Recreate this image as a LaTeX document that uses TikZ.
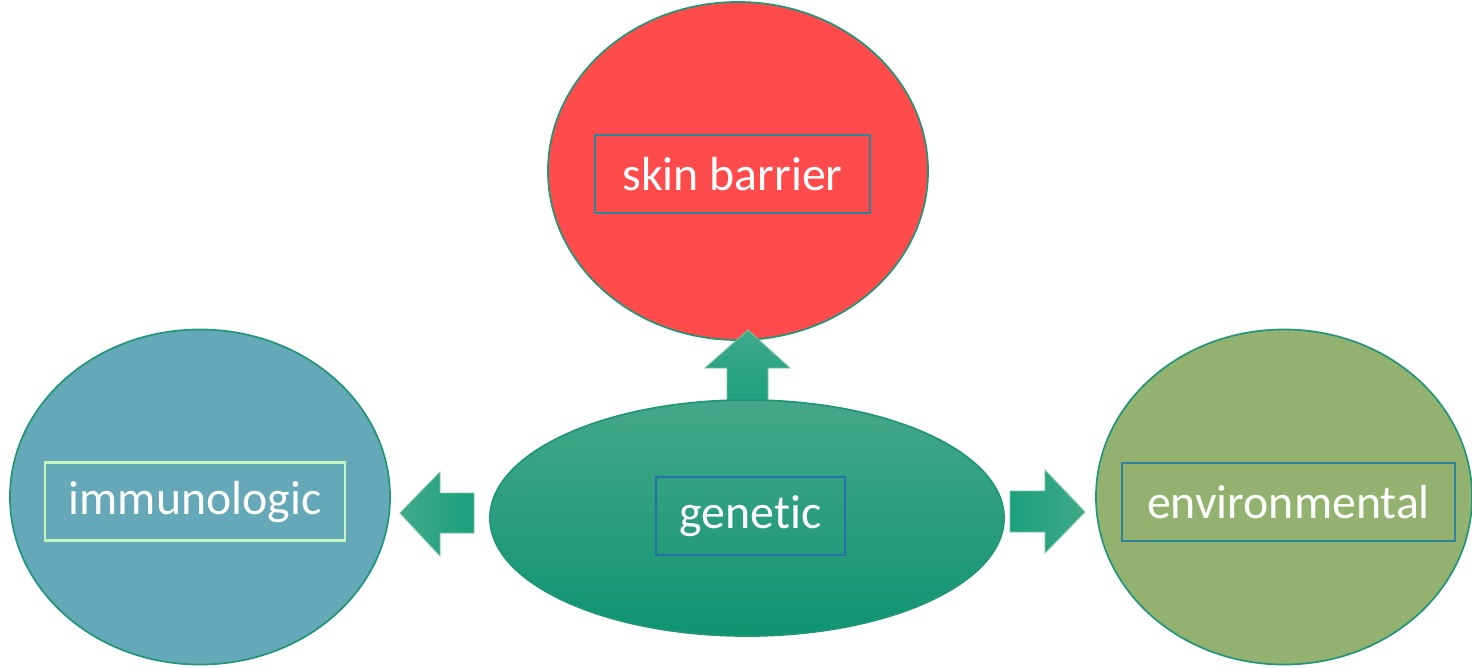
\documentclass[tikz,border=0pt]{standalone}
\usepackage{fontspec}
\setmainfont[Ligatures={NoCommon}]{Carlito}
\usetikzlibrary{shapes.geometric,positioning}

\definecolor{ringgreen}{HTML}{1F9677}
\definecolor{skinred}{HTML}{FF4B4B}
\definecolor{immublue}{HTML}{65A8B8}
\definecolor{envolive}{HTML}{94B26F}
\definecolor{gentop}{HTML}{45A888}
\definecolor{genbot}{HTML}{0F9470}
\definecolor{arrdark}{HTML}{1AA07B}
\definecolor{arrlight}{HTML}{40AA88}
\definecolor{boxteal}{HTML}{2E8599}
\definecolor{boxmint}{HTML}{C6F5C0}

\begin{document}
\begin{tikzpicture}[
    x=0.025cm, y=-0.025cm,
    every node/.style={font=\fontsize{34}{40}\selectfont, text=white},
    factor/.style={ellipse, draw=ringgreen, line width=1.2pt, inner sep=0pt},
    label box/.style={rectangle, line width=1.5pt, inner sep=0pt, minimum height=1.95cm},
    block arrow/.style={draw=arrlight!70!white, line width=0.6pt},
]
\useasboundingbox (0,0) rectangle (1472,667);

% Side arrows
\draw[block arrow, left color=arrlight, right color=arrdark]
    (474,493) -- (440,493) -- (440,472) -- (400,513) -- (440,556) -- (440,533) -- (474,533) -- cycle;
\draw[block arrow, left color=arrdark, right color=arrlight]
    (1010,491) -- (1045,491) -- (1045,470) -- (1085,512) -- (1045,553) -- (1045,532) -- (1010,532) -- cycle;

% Outer factors
\node[factor, fill=skinred, minimum width=9.5cm, minimum height=8.45cm] (skin) at (738,171) {};
\node[factor, fill=immublue, minimum width=9.5cm, minimum height=8.375cm] (immu) at (200,497) {};
\node[factor, fill=envolive, minimum width=9.4cm, minimum height=8.375cm] (env) at (1284,497) {};

% Up arrow overlaps the skin ellipse, sits under genetic
\draw[block arrow, bottom color=arrdark, top color=arrlight]
    (727,405) -- (727,368) -- (705,368) -- (748,330) -- (790,368) -- (768,368) -- (768,405) -- cycle;

\node[factor, top color=gentop, bottom color=genbot, minimum width=12.85cm, minimum height=5.9cm] (gen) at (747,518) {};

% Labels
\node[label box, draw=boxteal, minimum width=6.875cm] (skinlbl) at (732.5,174) {skin barrier};
\node[label box, draw=boxteal!85!blue, minimum width=4.725cm] (genlbl) at (750.5,516) {genetic};
\node[label box, draw=boxmint, minimum width=7.5cm] (immulbl) at (195,501.5) {immunologic};
\node[label box, draw=boxteal, minimum width=8.325cm] (envlbl) at (1288.5,502) {environmental};

\end{tikzpicture}
\end{document}
